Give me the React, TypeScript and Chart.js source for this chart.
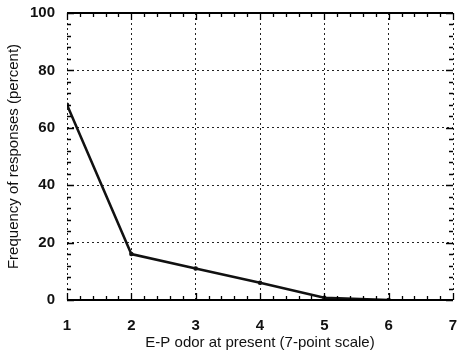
import React, { useEffect, useRef } from "react";
import { Chart, registerables } from "chart.js";

Chart.register(...registerables);

const xValues = [1, 2, 3, 4, 5, 6];
const frequency = [68, 16, 11, 6, 0.8, 0];
const xTickValues = [1, 2, 3, 4, 5, 6, 7];
const yTickValues = [0, 20, 40, 60, 80, 100];
const xTitle = "E-P odor at present (7-point scale)";
const yTitle = "Frequency of responses (percent)";
const xMinorStep = 0.2;
const yMinorStep = 4;

const minorTicksPlugin = {
  id: "minorTicks",
  afterDraw(chart: any) {
    const { ctx, chartArea, scales } = chart;
    const { left, right, top, bottom } = chartArea;
    const xs = scales.x;
    const ys = scales.y;
    ctx.save();
    ctx.setLineDash([]);
    ctx.strokeStyle = "#000";
    ctx.lineWidth = 2;
    ctx.beginPath();
    ctx.moveTo(left, top);
    ctx.lineTo(right, top);
    ctx.moveTo(left, bottom);
    ctx.lineTo(right, bottom);
    ctx.stroke();
    ctx.lineWidth = 1.3;
    const x0 = xTickValues[0];
    const x1 = xTickValues[xTickValues.length - 1];
    const nx = Math.round((x1 - x0) / xMinorStep);
    for (let i = 0; i <= nx; i++) {
      const v = x0 + i * xMinorStep;
      const px = Math.round(xs.getPixelForValue(v)) + 0.5;
      const major = i % 5 === 0;
      const len = major ? 7 : 4;
      ctx.beginPath();
      ctx.moveTo(px, bottom);
      ctx.lineTo(px, bottom - len);
      ctx.moveTo(px, top);
      ctx.lineTo(px, top + len);
      ctx.stroke();
    }
    const y0 = yTickValues[0];
    const y1 = yTickValues[yTickValues.length - 1];
    const ny = Math.round((y1 - y0) / yMinorStep);
    for (let i = 0; i <= ny; i++) {
      const v = y0 + i * yMinorStep;
      const py = Math.round(ys.getPixelForValue(v)) + 0.5;
      const major = i % 5 === 0;
      const len = major ? 7 : 4;
      ctx.beginPath();
      ctx.moveTo(left, py);
      ctx.lineTo(left + len, py);
      ctx.moveTo(right, py);
      ctx.lineTo(right - len, py);
      ctx.stroke();
    }
    ctx.restore();
  },
};

const zeroPad = (s: any) => {
  s.paddingLeft = 0;
  s.paddingRight = 0;
  s.paddingTop = 0;
  s.paddingBottom = 0;
};

export default function App() {
  const ref = useRef<HTMLCanvasElement | null>(null);
  useEffect(() => {
    document.body.style.margin = "0";
    const canvas = ref.current;
    if (!canvas) return;
    const data = xValues.map((x, i) => ({ x, y: frequency[i] }));
    const chart = new Chart(canvas, {
      type: "scatter",
      data: {
        datasets: [
          {
            data,
            showLine: true,
            borderColor: "#111",
            backgroundColor: "#111",
            borderWidth: 2.5,
            pointRadius: 1,
            pointHoverRadius: 1,
            tension: 0,
          },
        ],
      },
      plugins: [minorTicksPlugin],
      options: {
        animation: false,
        responsive: false,
        layout: { padding: { top: 13, right: 9, left: 5, bottom: 0 } },
        plugins: { legend: { display: false }, tooltip: { enabled: false } },
        scales: {
          x: {
            type: "linear",
            min: xTickValues[0],
            max: xTickValues[xTickValues.length - 1],
            afterBuildTicks: (s: any) => {
              s.ticks = xTickValues.map((v) => ({ value: v }));
            },
            afterFit: (s: any) => {
              s.height = 54;
              zeroPad(s);
            },
            grid: {
              color: "#222",
              lineWidth: 1,
              drawTicks: false,
            },
            border: { display: false, dash: [2, 3] },
            ticks: {
              color: "#111",
              padding: 17,
              font: { family: "Liberation Sans", size: 15, weight: "bold" },
            },
            title: {
              display: true,
              text: xTitle,
              color: "#111",
              padding: { top: 0, bottom: 2 },
              font: { family: "Liberation Sans", size: 15 },
            },
          },
          y: {
            type: "linear",
            min: yTickValues[0],
            max: yTickValues[yTickValues.length - 1],
            afterBuildTicks: (s: any) => {
              s.ticks = yTickValues.map((v) => ({ value: v }));
            },
            afterFit: (s: any) => {
              s.width = 62;
              zeroPad(s);
            },
            grid: {
              color: "#222",
              lineWidth: 1,
              drawTicks: false,
            },
            border: { display: false, dash: [2, 3] },
            ticks: {
              color: "#111",
              padding: 12,
              font: { family: "Liberation Sans", size: 15, weight: "bold" },
            },
            title: {
              display: true,
              text: yTitle,
              color: "#111",
              padding: { top: 0, bottom: 0 },
              font: { family: "Liberation Sans", size: 15 },
            },
          },
        },
      },
    } as any);
    return () => chart.destroy();
  }, []);
  return <canvas ref={ref} width={462} height={354} />;
}
